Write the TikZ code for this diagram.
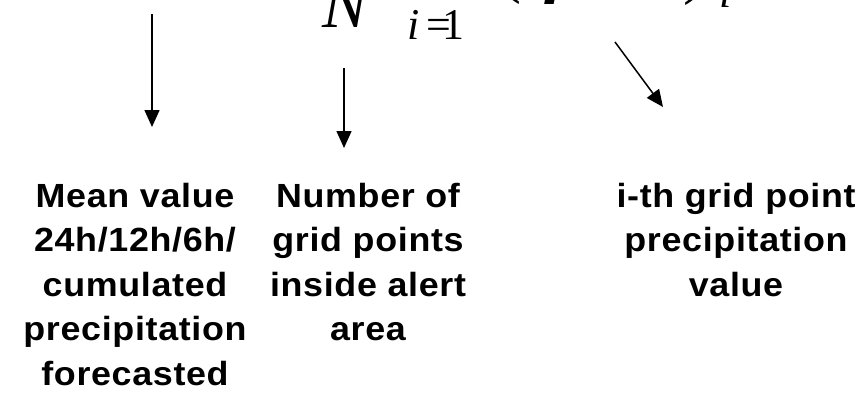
\documentclass[tikz,border=0pt]{standalone}
\usepackage{fontspec}
\setmainfont{Liberation Sans}
\newfontfamily\formulafont{Liberation Serif}
\newfontfamily\labelfont[LetterSpace=2,FakeStretch=1.07]{Liberation Sans}
\usepackage{tikz}
\usetikzlibrary{arrows.meta,positioning}

\tikzset{
  caption/.style={align=center,inner sep=0pt,anchor=north,
    font=\labelfont\bfseries\fontsize{33.5}{44.5}\selectfont},
  pointer/.style={-{Triangle[length=17pt,width=15pt]},line width=1.5pt},
  formula/.style={inner sep=0pt,anchor=base}
}

\begin{document}
\begin{tikzpicture}[x=1pt,y=-1pt]
  \useasboundingbox (0,0) rectangle (866,397);
  \clip (0,0) rectangle (866,397);
  % formula, only its lower edge is visible
  \node[formula,font=\formulafont\itshape\fontsize{68}{68}\selectfont] (denN) at (345,27) {N};
  \node[formula,font=\formulafont\fontsize{44}{44}\selectfont] (lowlim) at (436,39)
        {\itshape i\kern6pt\upshape =\kern-9pt 1};
  \node[formula,anchor=base east,font=\formulafont\fontsize{66}{66}\selectfont] (lpar) at (522,-10) {(};
  \node[formula,anchor=base west,font=\bfseries\itshape\fontsize{66}{66}\selectfont] (pvar) at (543,4) {P};
  \node[formula,anchor=base west,font=\formulafont\fontsize{66}{66}\selectfont] (rpar) at (683,-9) {)};
  \node[formula,anchor=base west,font=\formulafont\itshape\fontsize{44}{44}\selectfont] (sub) at (719,7) {i};
  % labels
  \node[caption] (mean) at (135,183) {Mean value\\24h/12h/6h/\\cumulated\\precipitation\\forecasted};
  \node[caption] (count) at (368,183) {Number of\\grid points\\inside alert\\area};
  \node[caption] (point) at (736,183) {i-th grid point\\precipitation\\value};
  % arrows
  \coordinate (meanfrom) at (152,14);
  \coordinate (meanto) at (152,127);
  \coordinate (countfrom) at (344,68);
  \coordinate (countto) at (344,148);
  \coordinate (pointfrom) at (615,42);
  \coordinate (pointto) at (663,107);
  \draw[pointer] (meanfrom) -- (meanto);
  \draw[pointer] (countfrom) -- (countto);
  \draw[pointer] (pointfrom) -- (pointto);
\end{tikzpicture}
\end{document}
